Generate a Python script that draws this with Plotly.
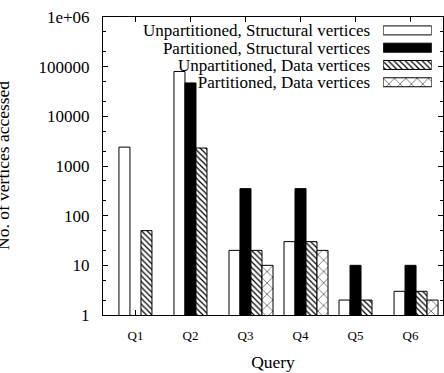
import plotly.graph_objects as go

queries = ["Q1", "Q2", "Q3", "Q4", "Q5", "Q6"]
series_names = [
    "Unpartitioned, Structural vertices",
    "Partitioned, Structural vertices",
    "Unpartitioned, Data vertices",
    "Partitioned, Data vertices",
]
unpart_struct = [2400, 80000, 20, 30, 2, 3]
part_struct = [None, 47000, 350, 350, 10, 10]
unpart_data = [50, 2300, 20, 30, 2, 3]
part_data = [None, None, 10, 20, None, 2]
ytick_vals = [1, 10, 100, 1000, 10000, 100000, 1000000]
ytick_text = ["1", "10", "100", "1000", "10000", "100000", "1e+06"]

series_values = [unpart_struct, part_struct, unpart_data, part_data]
fills = ["white", "black", "white", "white"]
shapes = ["", "", "\\", "x"]
psizes = [4, 4, 4, 8]
psolid = [0.3, 0.3, 0.3, 0.12]

FONT = "Liberation Serif, Times New Roman, serif"
xs = list(range(len(queries)))

fig = go.Figure()
for name, vals, fc, sh, ps, so in zip(series_names, series_values, fills, shapes, psizes, psolid):
    fig.add_trace(go.Bar(
        x=xs, y=vals, name=name,
        marker=dict(color=fc, line=dict(color="black", width=1),
                    pattern=dict(shape=sh, fgcolor="black", bgcolor=fc, size=ps,
                                 solidity=so, fillmode="replace")),
        showlegend=False,
    ))

# legend drawn as a small overlay subplot (samples to the right of the text)
for k, (fc, sh, ps, so) in enumerate(zip(fills, shapes, psizes, psolid)):
    fig.add_trace(go.Bar(
        x=[1], y=[k], orientation="h", xaxis="x2", yaxis="y2", width=0.52,
        offsetgroup="legend", showlegend=False, hoverinfo="skip",
        marker=dict(color=fc, line=dict(color="black", width=1),
                    pattern=dict(shape=sh, fgcolor="black", bgcolor=fc, size=ps,
                                 solidity=so, fillmode="replace")),
    ))

fig.update_layout(
    width=444, height=373,
    margin=dict(l=103, r=1, t=17, b=58),
    paper_bgcolor="white", plot_bgcolor="white",
    barmode="group", bargap=0.2, bargroupgap=0,
    showlegend=False,
    font=dict(family=FONT, color="black", size=17),
    xaxis=dict(
        range=[-0.69, 5.49], tickvals=[i - 0.1 for i in xs], ticktext=queries,
        ticks="inside", ticklen=5, tickcolor="black", showline=True, linecolor="black",
        linewidth=1, mirror="ticks", showgrid=False, zeroline=False,
        tickfont=dict(size=13), ticklabelstandoff=8,
        title=dict(text="Query", font=dict(size=17.5), standoff=14),
    ),
    yaxis=dict(
        type="log", range=[0, 6], tickvals=ytick_vals, ticktext=ytick_text,
        ticks="inside", ticklen=5, tickcolor="black", showline=True, linecolor="black",
        linewidth=1, mirror="ticks", showgrid=False, zeroline=False,
        tickfont=dict(size=17), ticklabelstandoff=9,
        minor=dict(ticks="inside", ticklen=3, tickcolor="black", dtick="D2", showgrid=False),
    ),
    xaxis2=dict(domain=[0.824, 0.967], anchor="y2", range=[0, 1], visible=False),
    yaxis2=dict(domain=[0.752, 0.984], anchor="x2", range=[3.5, -0.5],
                tickvals=list(range(len(series_names))), ticktext=series_names,
                showline=False, showgrid=False, zeroline=False, ticks="",
                tickfont=dict(size=17), ticklabelstandoff=12),
    annotations=[dict(
        text="No. of vertices accessed", textangle=-90, xref="paper", yref="paper",
        x=(3 - 103) / 340, y=0.5, xanchor="center", yanchor="middle", showarrow=False,
        font=dict(size=17.5),
    )],
)

fig.write_html("out.html")
